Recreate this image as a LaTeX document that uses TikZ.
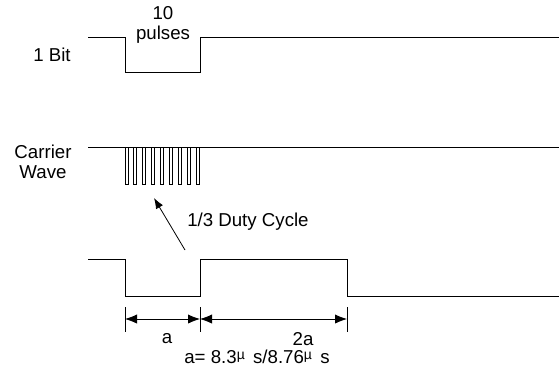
\documentclass[tikz,border=0pt]{standalone}
\usepackage{fontspec}
\setmainfont{Liberation Sans}
\usepackage{tikz}
\usetikzlibrary{arrows.meta}
\usepackage{xcolor}
\tikzstyle{Wave}=[black,line width=0.7pt,line join=miter]
\tikzstyle{Label}=[inner sep=0pt,font=\fontsize{14}{15}\selectfont,align=center]
\tikzstyle{DimLine}=[black,line width=0.6pt]
\tikzstyle{DimArrow}=[black,line width=0.6pt,{Latex[length=9pt,width=7pt]}-{Latex[length=9pt,width=7pt]}]
\tikzstyle{Pointer}=[black,line width=0.6pt,-{Latex[length=8pt,width=6pt]}]
\newcommand{\SmallMu}{\raisebox{.45ex}{\fontsize{10.5}{10}\selectfont µ}\,}

\begin{document}
\begin{tikzpicture}[x=0.75pt,y=-0.75pt]
        \useasboundingbox(0,0)rectangle(560,379);
        \draw[Wave](88,37)--(125,37)--(125,72)--(200,72)--(200,37)--(559,37);
        \draw[Wave](88,147)--(559,147);
        \foreach \i in {0,...,8}
            \draw[Wave]({125+\i*8.9},147)--++(0,37)--++(3,0)--++(0,-37);
        \draw[Wave](88,259)--(125,259)--(125,296)--(200,296)--(200,259)--(347,259)--(347,296)--(559,296);
        \node[Label](bit)at(52,55){1 Bit};
        \node[Label](pulses)at(163,25){10\\pulses};
        \node[Label](carrier)at(43,162){Carrier\\Wave};
        \node[Label,anchor=west](duty)at(187,222){1/3 Duty Cycle};
        \coordinate(dutytail)at(185,250);
        \coordinate(dutytip)at(154,198);
        \draw[Pointer](dutytail)--(dutytip);
        \coordinate(da)at(125,319);
        \coordinate(db)at(200,319);
        \coordinate(dc)at(347,319);
        \foreach \p in {da,db,dc}
            \draw[DimLine]([yshift=9pt]\p)--([yshift=-10pt]\p);
        \draw[DimArrow](da)--(db);
        \draw[DimArrow](db)--(dc);
        \node[Label](la)at(167,339){a};
        \node[Label](l2a)at(303,339){2a};
        \node[Label](period)at(257,357){a= 8.3\SmallMu\ s/8.76\SmallMu\ s};
    \end{tikzpicture}
\end{document}
